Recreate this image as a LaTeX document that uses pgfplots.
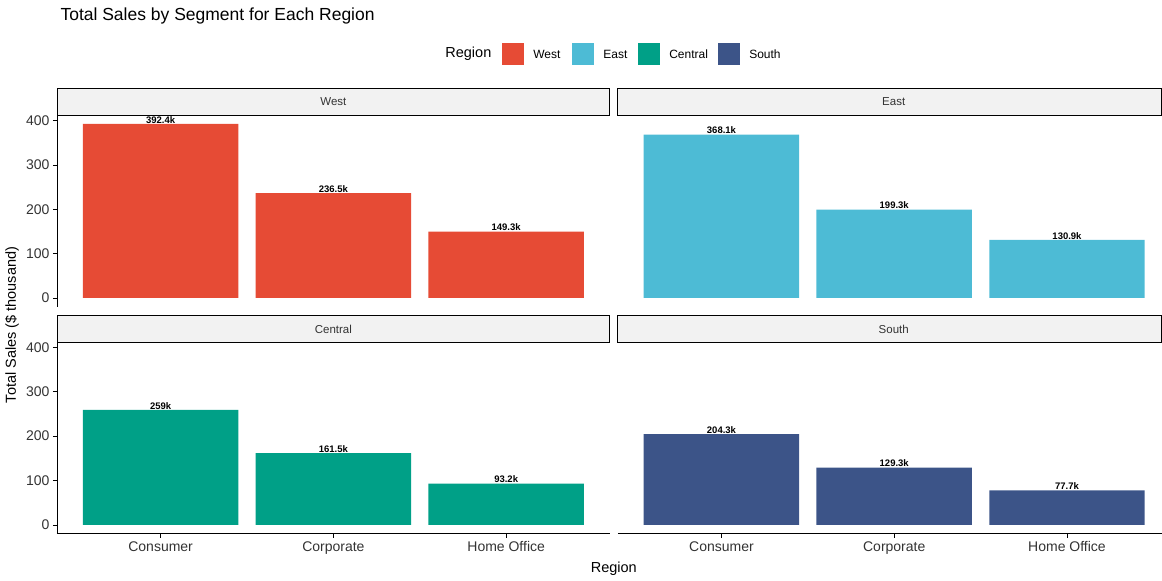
\documentclass[border=0pt]{standalone}
\usepackage{pgfplots}
\pgfplotsset{compat=1.18}
\usepackage{fontspec}
\setmainfont{Liberation Sans}
\definecolor{cW}{HTML}{E64B35}
\definecolor{cE}{HTML}{4DBBD5}
\definecolor{cC}{HTML}{00A087}
\definecolor{cS}{HTML}{3C5488}
\definecolor{strip}{HTML}{F2F2F2}
\pgfplotsset{panel/.style={
  scale only axis, width=553pt, height=191.7pt, anchor=north west,
  xmin=0.4, xmax=3.6, ymin=-20, ymax=412,
  axis line style={black, line width=0.7pt},
  ybar, bar width=0.9, bar shift=0pt,
  xtick={1,2,3}, xticklabels={Consumer,Corporate,Home Office},
  ytick={0,100,200,300,400},
  tick style={black, line width=0.7pt}, tick align=outside, major tick length=4pt,
  tick label style={font=\fontsize{14}{14}\selectfont, text=black!80},
  nodes near coords, point meta=explicit symbolic,
  every node near coord/.style={font=\bfseries\fontsize{9.5}{9.5}\selectfont, inner sep=0.5pt, anchor=south},
  /pgf/number format/assume math mode=true,
  clip=false}}
\begin{document}
\begin{tikzpicture}[x=1pt,y=1pt]
\path (0,0) rectangle (1162,-581);
\node[anchor=west,font=\fontsize{17.5}{17.5}\selectfont] at (57,-16) {Total Sales by Segment for Each Region};
% legend
\node[anchor=west,font=\fontsize{14.5}{14.5}\selectfont] at (442,-54) {Region};
\fill[cW] (502,-43) rectangle (524,-65); \node[anchor=west,font=\fontsize{12}{12}\selectfont] at (530,-54) {West};
\fill[cE] (572,-43) rectangle (594,-65); \node[anchor=west,font=\fontsize{12}{12}\selectfont] at (600,-54) {East};
\fill[cC] (638,-43) rectangle (660,-65); \node[anchor=west,font=\fontsize{12}{12}\selectfont] at (666,-54) {Central};
\fill[cS] (718,-43) rectangle (740,-65); \node[anchor=west,font=\fontsize{12}{12}\selectfont] at (746,-54) {South};
% strips
\filldraw[fill=strip,draw=black,line width=0.7pt] (57,-88) rectangle (610,-115);
\node[font=\fontsize{11.5}{11.5}\selectfont,text=black!80] at (333.5,-102) {West};
\filldraw[fill=strip,draw=black,line width=0.7pt] (618,-88) rectangle (1161.5,-115);
\node[font=\fontsize{11.5}{11.5}\selectfont,text=black!80] at (894,-102) {East};
\filldraw[fill=strip,draw=black,line width=0.7pt] (57,-315) rectangle (610,-342);
\node[font=\fontsize{11.5}{11.5}\selectfont,text=black!80] at (333.5,-329) {Central};
\filldraw[fill=strip,draw=black,line width=0.7pt] (618,-315) rectangle (1161.5,-342);
\node[font=\fontsize{11.5}{11.5}\selectfont,text=black!80] at (894,-329) {South};
% West
\begin{axis}[panel, at={(57pt,-115.2pt)}, axis x line=none, axis y line*=left]
\addplot[fill=cW,draw=none] coordinates {(1,392.4)[392.4k] (2,236.5)[236.5k] (3,149.3)[149.3k]};
\end{axis}
% East
\begin{axis}[panel, at={(618pt,-115.2pt)}, xmax=3.548, width=544pt, axis x line=none, axis y line=none]
\addplot[fill=cE,draw=none] coordinates {(1,368.1)[368.1k] (2,199.3)[199.3k] (3,130.9)[130.9k]};
\end{axis}
% Central
\begin{axis}[panel, at={(57pt,-342.2pt)}, axis x line*=bottom, axis y line*=left]
\addplot[fill=cC,draw=none] coordinates {(1,259)[259k] (2,161.5)[161.5k] (3,93.2)[93.2k]};
\end{axis}
% South
\begin{axis}[panel, at={(618pt,-342.2pt)}, xmax=3.548, width=544pt, axis x line*=bottom, axis y line=none]
\addplot[fill=cS,draw=none] coordinates {(1,204.3)[204.3k] (2,129.3)[129.3k] (3,77.7)[77.7k]};
\end{axis}
\node[font=\fontsize{14.5}{14.5}\selectfont] at (614,-569) {Region};
\node[rotate=90,font=\fontsize{14.5}{14.5}\selectfont] at (12,-325) {Total Sales (\$ thousand)};
\end{tikzpicture}
\end{document}
